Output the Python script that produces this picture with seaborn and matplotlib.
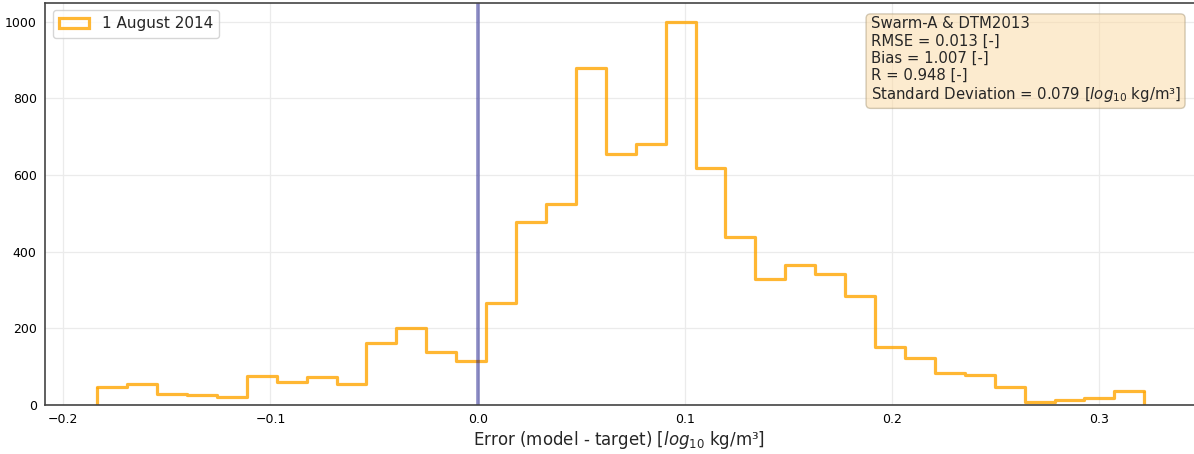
import numpy as np
import pandas as pd
import matplotlib
matplotlib.use("Agg")
import matplotlib.pyplot as plt
from matplotlib.patches import Patch
import seaborn as sns

# Histogram of log-density errors, Swarm-A vs DTM2013
bin_lo = -0.1836
bin_hi = 0.3217
n_bins = 35
counts = [48, 54, 29, 25, 22, 76, 60, 72, 54, 161, 200, 138, 116,
          267, 478, 525, 879, 654, 682, 1000, 618, 438, 330, 365, 342, 285, 152,
          123, 84, 78, 48, 9, 12, 18, 37]
series_label = "1 August 2014"
stats_lines = [
    "Swarm-A & DTM2013",
    "RMSE = 0.013 [-]",
    "Bias = 1.007 [-]",
    "R = 0.948 [-]",
    "Standard Deviation = 0.079 [$log_{10}$ kg/m³]",
]
x_label = "Error (model - target) [$log_{10}$ kg/m³]"

edges = np.linspace(bin_lo, bin_hi, n_bins + 1)
centers = 0.5 * (edges[:-1] + edges[1:])
df = pd.DataFrame({"error": centers, "count": counts})

sns.set_style("white")
plt.rcParams["font.family"] = ["DejaVu Sans"]

fig = plt.figure(figsize=(11.94, 4.54), dpi=100)
ax = fig.add_axes([0.0377, 0.108, 0.9623, 0.886])

hist_color = "orange"
hist_alpha = 0.8
hist_lw = 2.3
sns.histplot(data=df, x="error", weights="count", bins=n_bins,
             binrange=(bin_lo, bin_hi), element="step", fill=False,
             color=hist_color, alpha=hist_alpha, linewidth=hist_lw, ax=ax)
# close the outline at both outer bin edges, as a step histogram does
ax.vlines([edges[0], edges[-1]], 0, [counts[0], counts[-1]],
          color=hist_color, alpha=hist_alpha, linewidth=hist_lw)
ax.axvline(0.0, color="navy", alpha=0.45, linewidth=2.6)

ax.set_xlim(-0.2088, 0.3457)
ax.set_ylim(0, 1050)
ax.set_xticks([-0.2, -0.1, 0.0, 0.1, 0.2, 0.3])
ax.set_yticks([0, 200, 400, 600, 800, 1000])
ax.grid(True, color="#ebebeb", linewidth=0.9)
ax.set_axisbelow(True)
ax.tick_params(direction="inout", length=5, width=1, labelsize=9, colors="#333333",
               labelcolor="black")
for side in ("left", "bottom", "top"):
    ax.spines[side].set_color("#444444")
    ax.spines[side].set_linewidth(1.2)
ax.spines["right"].set_visible(False)

ax.set_xlabel(x_label, fontsize=12, labelpad=2)
ax.set_ylabel("")

handle = Patch(facecolor="none", edgecolor=hist_color, alpha=hist_alpha,
               linewidth=hist_lw)
ax.legend([handle], [series_label], loc="upper left", fontsize=11, frameon=True,
          fancybox=True, edgecolor="#cccccc", framealpha=0.8)

ax.text(0.7185, 0.966, "\n".join(stats_lines), transform=ax.transAxes,
        fontsize=10.75, va="top", ha="left", linespacing=1.17,
        bbox=dict(boxstyle="round,pad=0.3", facecolor="#fbd9a0", alpha=0.5,
                  edgecolor="#a89878"))

fig.savefig("out.png", dpi=100)
